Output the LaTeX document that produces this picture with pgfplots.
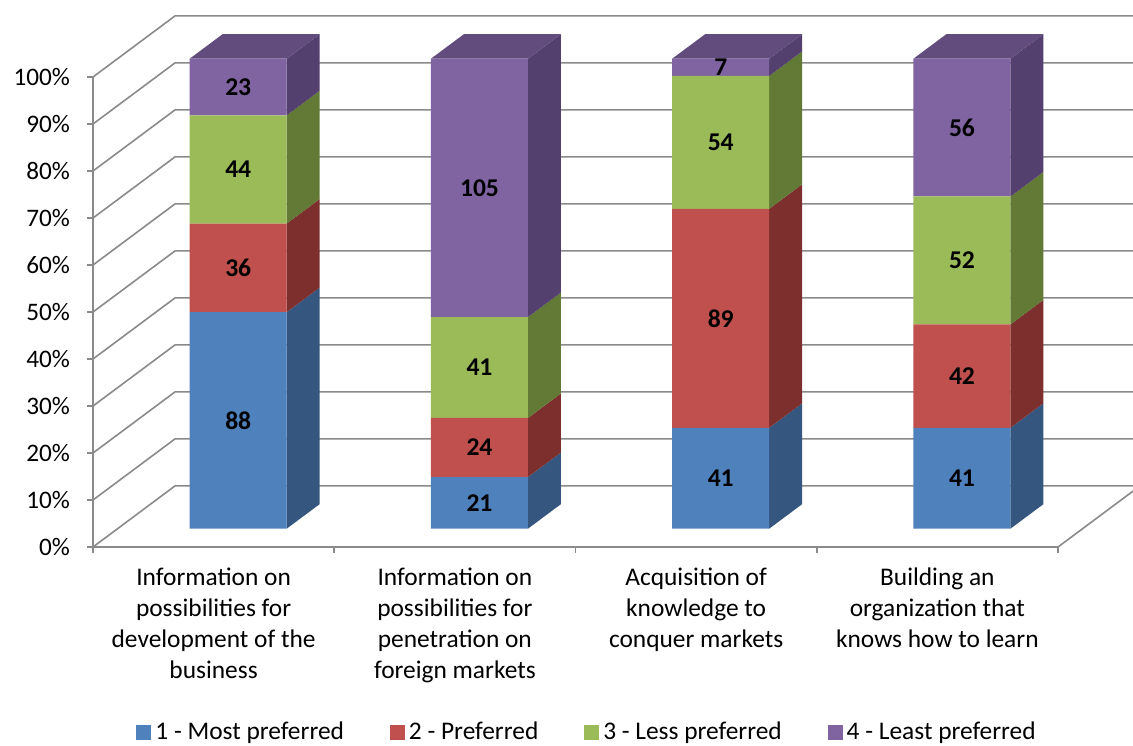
\documentclass[border=0pt]{standalone}
\usepackage{fontspec}
\setmainfont{Carlito}
\usepackage{pgfplots}
\usepackage{pgfplotstable}
\pgfplotsset{compat=1.18}

% series colours: front, side, top
\definecolor{c1f}{HTML}{4F81BD}
\definecolor{c1s}{HTML}{35577F}
\definecolor{c2f}{HTML}{C0504D}
\definecolor{c2s}{HTML}{7D2F2E}
\definecolor{c3f}{HTML}{9BBB59}
\definecolor{c3s}{HTML}{627A35}
\definecolor{c4f}{HTML}{8064A2}
\definecolor{c4s}{HTML}{53406E}
\definecolor{c4t}{HTML}{624C7E}
\definecolor{gridc}{HTML}{8A8A8A}

% number of answers per rank (columns) for each item (rows)
\pgfplotstableread{
pos c1 c2 c3 c4
0 88 36 44 23
1 21 24 41 105
2 41 89 54 7
3 41 42 52 56
}\counts

% depth geometry (in data units of the wall axis)
\def\depx{0.136}   % x extent of a bar's side face
\def\fy{3.9}       % lift of the bars' front plane
\def\by{9.1}       % lift of the bars' back plane

\tikzset{dlabel/.style={font=\fontsize{12.8}{14}\selectfont\bfseries, text=black}}
\pgfplotsset{frontplane/.style={
  at={(0pt,0pt)}, anchor=south west,
  scale only axis, width=482.5pt, height=235pt,
  xmin=-0.102, xmax=3.898, ymin=-3.9, ymax=96.1, clip=false,
  hide axis}}

% side face of one stacked segment: #1 front right x, #2 lower %, #3 upper %, #4 colour
\newcommand\sideface[4]{%
  \pgfmathsetmacro\xa{#1}\pgfmathsetmacro\xb{#1+\depx}%
  \pgfmathsetmacro\ya{#2+\fy}\pgfmathsetmacro\yb{#2+\by}%
  \pgfmathsetmacro\yc{#3+\by}\pgfmathsetmacro\yd{#3+\fy}%
  \edef\tmp{\noexpand\addplot[fill=#4, draw=none, forget plot] coordinates
    {(\xa,\ya) (\xb,\yb) (\xb,\yc) (\xa,\yd)} -- cycle;}%
  \tmp}
% top face of a bar: #1 front left x, #2 colour
\newcommand\topface[2]{%
  \pgfmathsetmacro\xa{#1}\pgfmathsetmacro\xb{#1+0.402}%
  \pgfmathsetmacro\xc{#1+0.402+\depx}\pgfmathsetmacro\xd{#1+\depx}%
  \pgfmathsetmacro\ya{100+\fy}\pgfmathsetmacro\yb{100+\by}%
  \edef\tmp{\noexpand\addplot[fill=#2, draw=none, forget plot] coordinates
    {(\xa,\ya) (\xb,\ya) (\xc,\yb) (\xd,\yb)} -- cycle;}%
  \tmp}
% cumulative shares of row #1 of the count table
\newcommand\shares[1]{%
  \pgfplotstablegetelem{#1}{c1}\of\counts \let\na\pgfplotsretval
  \pgfplotstablegetelem{#1}{c2}\of\counts \let\nb\pgfplotsretval
  \pgfplotstablegetelem{#1}{c3}\of\counts \let\nc\pgfplotsretval
  \pgfplotstablegetelem{#1}{c4}\of\counts \let\nd\pgfplotsretval
  \pgfmathsetmacro\tot{\na+\nb+\nc+\nd}%
  \pgfmathsetmacro\pa{100*\na/\tot}%
  \pgfmathsetmacro\pb{\pa+100*\nb/\tot}%
  \pgfmathsetmacro\pc{\pb+100*\nc/\tot}}

\begin{document}
\begin{tikzpicture}
\useasboundingbox (-46.5pt,-99pt) rectangle (520pt,273.5pt);

% walls, floor, axes and the side/top faces of the bars
\begin{axis}[
  at={(0pt,0pt)}, anchor=south west,
  scale only axis, width=482.5pt, height=235pt,
  xmin=0, xmax=4, ymin=0, ymax=100, clip=false,
  axis x line*=bottom, axis y line*=left,
  axis line style={gridc, line width=0.8pt},
  xtick={0,1,2,3,4}, xticklabels={},
  ytick={0,10,...,100},
  yticklabel={\pgfmathprintnumber{\tick}\%},
  /pgf/number format/assume math mode=true,
  tick align=outside, major tick length=3pt,
  tick style={gridc, line width=0.8pt},
  y tick label style={font=\fontsize{12.6}{14}\selectfont, xshift=-5pt},
  extra x ticks={0.5,1.5,2.5,3.5},
  extra x tick labels={
    {Information on\\possibilities for\\development of the\\business},
    {Information on\\possibilities for\\penetration on\\foreign markets},
    {Acquisition of\\knowledge to\\conquer markets},
    {Building an\\organization that\\knows how to learn}},
  extra x tick style={major tick length=0pt,
    tick label style={align=center, anchor=north, yshift=-7pt,
      font=\fontsize{12.7}{15.5}\selectfont}},
]
% gridlines on the side wall and the back wall
\pgfplotsforeachungrouped \k in {0,10,...,100}{%
  \pgfmathsetmacro\kb{\k+13}%
  \edef\tmp{\noexpand\draw[gridc, line width=0.8pt] (axis cs:0,\k) -- (axis cs:0.34,\kb) -- (axis cs:4.34,\kb);}%
  \tmp}
% right edge of the floor
\draw[gridc, line width=0.8pt] (axis cs:4,0) -- (axis cs:4.34,13);

\pgfplotsforeachungrouped \r in {0,1,2,3}{%
  \shares{\r}%
  \pgfmathsetmacro\xf{\r+0.803}%
  \pgfmathsetmacro\xl{\r+0.401}%
  \sideface{\xf}{0}{\pa}{c1s}%
  \sideface{\xf}{\pa}{\pb}{c2s}%
  \sideface{\xf}{\pb}{\pc}{c3s}%
  \sideface{\xf}{\pc}{100}{c4s}%
  \topface{\xl}{c4t}%
}
\end{axis}

% front faces of the bars with the legend
\begin{axis}[
  frontplane,
  ybar stacked, bar width=0.402,
  legend columns=4,
  legend style={at={(rel axis cs:0.513,-0.394)}, anchor=center,
    draw=none, fill=none, font=\fontsize{12.7}{14}\selectfont,
    /tikz/every even column/.append style={column sep=21pt}},
  legend image code/.code={\fill[#1] (0pt,-3.75pt) rectangle (7.5pt,3.75pt);},
]
\addplot[fill=c1f, draw=none] table[x expr=\thisrow{pos}+0.5,
  y expr=100*\thisrow{c1}/(\thisrow{c1}+\thisrow{c2}+\thisrow{c3}+\thisrow{c4})] {\counts};
\addplot[fill=c2f, draw=none] table[x expr=\thisrow{pos}+0.5,
  y expr=100*\thisrow{c2}/(\thisrow{c1}+\thisrow{c2}+\thisrow{c3}+\thisrow{c4})] {\counts};
\addplot[fill=c3f, draw=none] table[x expr=\thisrow{pos}+0.5,
  y expr=100*\thisrow{c3}/(\thisrow{c1}+\thisrow{c2}+\thisrow{c3}+\thisrow{c4})] {\counts};
\addplot[fill=c4f, draw=none] table[x expr=\thisrow{pos}+0.5,
  y expr=100*\thisrow{c4}/(\thisrow{c1}+\thisrow{c2}+\thisrow{c3}+\thisrow{c4})] {\counts};
\legend{1 - Most preferred, 2 - Preferred, 3 - Less preferred, 4 - Least preferred}
\end{axis}

% value labels in the middle of each segment
\begin{axis}[frontplane]
\pgfplotsforeachungrouped \r in {0,1,2,3}{%
  \shares{\r}%
  \pgfmathsetmacro\ma{\pa/2}%
  \pgfmathsetmacro\mb{(\pa+\pb)/2}%
  \pgfmathsetmacro\mc{(\pb+\pc)/2}%
  \pgfmathsetmacro\md{(\pc+100)/2}%
  \pgfmathsetmacro\xc{\r+0.5}%
  \edef\tmp{%
    \noexpand\node[dlabel] at (axis cs:\xc,\ma) {\na};
    \noexpand\node[dlabel] at (axis cs:\xc,\mb) {\nb};
    \noexpand\node[dlabel] at (axis cs:\xc,\mc) {\nc};
    \noexpand\node[dlabel] at (axis cs:\xc,\md) {\nd};}%
  \tmp}
\end{axis}
\end{tikzpicture}
\end{document}
